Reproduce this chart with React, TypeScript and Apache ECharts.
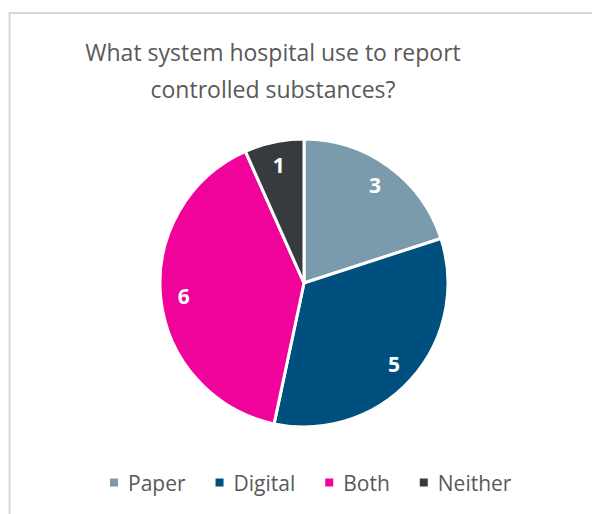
import React, { useEffect, useRef } from "react";
import * as echarts from "echarts";

const titleLines = ["What system hospital use to report", "controlled substances?"];
const categories = ["Paper", "Digital", "Both", "Neither"];
const values = [3, 5, 6, 1];
const colors = ["#7a9bac", "#00507f", "#ef039b", "#373b3f"];

const FONT = "'Open Sans', 'Noto Sans', sans-serif";

export default function App() {
  const ref = useRef<HTMLDivElement>(null);
  useEffect(() => {
    if (!ref.current) return;
    const chart = echarts.init(ref.current, null, { renderer: "svg" });
    const data = categories.map((name, i) => ({
      name,
      value: values[i],
      itemStyle: { color: colors[i] },
    }));
    chart.setOption({
      animation: false,
      backgroundColor: "#ffffff",
      title: {
        text: titleLines.join("\n"),
        left: 268,
        textAlign: "center",
        top: 28,
        textStyle: {
          fontFamily: FONT,
          fontSize: 23,
          fontWeight: "normal",
          color: "#595959",
          lineHeight: 37,
        },
      },
      legend: {
        data: categories,
        top: 467,
        left: 103,
        itemWidth: 10,
        itemHeight: 10,
        itemGap: 28,
        icon: "rect",
        textStyle: {
          fontFamily: FONT,
          fontSize: 21,
          color: "#595959",
          padding: [0, 0, 0, 4],
        },
        selectedMode: false,
      },
      graphic: [
        {
          type: "rect",
          silent: true,
          shape: { x: 9.5, y: 13, width: 800, height: 800 },
          style: { fill: "none", stroke: "#d9d9d9", lineWidth: 2 },
          z: -10,
        },
      ],
      series: [
        {
          type: "pie",
          center: [304, 283],
          radius: [0, 144],
          startAngle: 90,
          clockwise: true,
          silent: true,
          data,
          label: { show: false },
          labelLine: { show: false },
          itemStyle: { borderColor: "#ffffff", borderWidth: 3 },
        },
        {
          type: "pie",
          center: [304, 283],
          radius: [0, 236],
          startAngle: 90,
          clockwise: true,
          silent: true,
          data: categories.map((name, i) => ({ name, value: values[i] })),
          itemStyle: { color: "rgba(0,0,0,0)" },
          label: {
            show: true,
            position: "inside",
            formatter: "{c}",
            color: "#ffffff",
            fontFamily: FONT,
            fontSize: 21,
            fontWeight: "bold",
          },
          labelLine: { show: false },
        },
      ],
    });
    return () => chart.dispose();
  }, []);
  return (
    <div
      ref={ref}
      style={{ position: "absolute", left: 0, top: 0, width: 592, height: 514 }}
    />
  );
}
